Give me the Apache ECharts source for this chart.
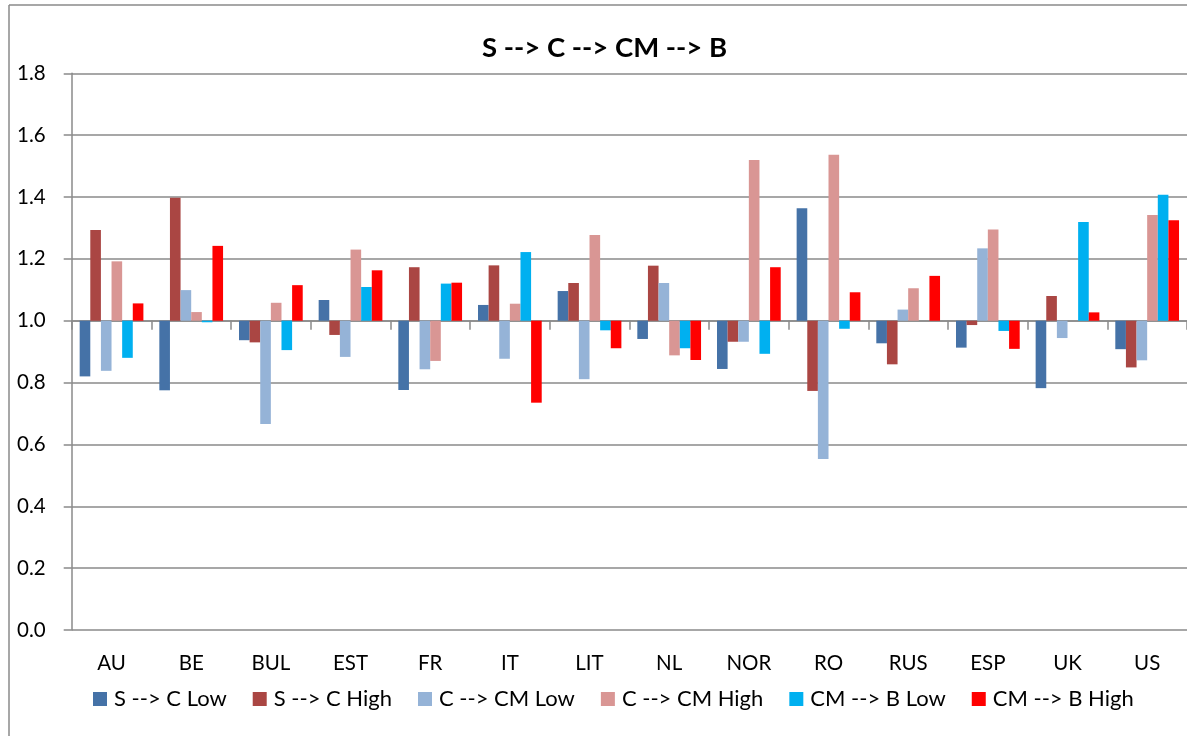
<!DOCTYPE html>
<html>
<head>
<meta charset="utf-8">
<script src="https://cdn.jsdelivr.net/npm/echarts@6/dist/echarts.min.js"></script>
<style>
  html, body { margin: 0; padding: 0; background: #ffffff; }
  #chart { width: 1187px; height: 736px; }
</style>
</head>
<body>
<div id="chart"></div>
<script>
// Countries along the category axis
const countries = ['AU', 'BE', 'BUL', 'EST', 'FR', 'IT', 'LIT', 'NL', 'NOR', 'RO', 'RUS', 'ESP', 'UK', 'US'];

// Ratios per country for each transition (bars grow up or down from 1.0)
const sToC_Low   = [0.820, 0.775, 0.937, 1.067, 0.776, 1.051, 1.096, 0.941, 0.844, 1.364, 0.927, 0.913, 0.782, 0.908];
const sToC_High  = [1.293, 1.398, 0.930, 0.954, 1.173, 1.179, 1.122, 1.178, 0.932, 0.773, 0.859, 0.986, 1.080, 0.849];
const cToCM_Low  = [0.838, 1.099, 0.666, 0.883, 0.843, 0.877, 0.811, 1.122, 0.932, 0.553, 1.036, 1.234, 0.944, 0.872];
const cToCM_High = [1.192, 1.028, 1.058, 1.230, 0.870, 1.055, 1.277, 0.888, 1.520, 1.537, 1.105, 1.295, 1.000, 1.342];
const cmToB_Low  = [0.880, 0.995, 0.905, 1.109, 1.120, 1.222, 0.969, 0.911, 0.893, 0.974, 1.000, 0.967, 1.319, 1.407];
const cmToB_High = [1.056, 1.242, 1.115, 1.163, 1.123, 0.735, 0.911, 0.873, 1.173, 1.092, 1.145, 0.909, 1.027, 1.325];

const seriesNames = ['S --> C Low', 'S --> C High', 'C --> CM Low', 'C --> CM High', 'CM --> B Low', 'CM --> B High'];

// Value axis range and step
const yMin = 0.0;
const yMax = 1.8;
const yStep = 0.2;

// Bars are measured from this reference level
const BASELINE = 1.0;

const colors = ['#4572A7', '#AA4643', '#95B3D7', '#D99694', '#00B0F0', '#FF0000'];
const gridGray = '#8a8a8a';
const FONT = 'Lato';

const allValues = [sToC_Low, sToC_High, cToCM_Low, cToCM_High, cmToB_Low, cmToB_High];

const chart = echarts.init(document.getElementById('chart'), null, { renderer: 'canvas' });

const option = {
  backgroundColor: '#ffffff',
  animation: false,
  color: colors,
  textStyle: { fontFamily: FONT, color: '#000' },
  title: {
    text: 'S --> C --> CM --> B',
    left: 477,
    top: 29,
    textStyle: { fontFamily: FONT, fontWeight: 'bold', fontSize: 27.5, color: '#000' }
  },
  // chart frame
  graphic: [
    { type: 'line', shape: { x1: 9, y1: 5, x2: 1200, y2: 5 }, style: { stroke: gridGray, lineWidth: 1.5 } },
    { type: 'line', shape: { x1: 9, y1: 5, x2: 9, y2: 760 }, style: { stroke: gridGray, lineWidth: 1.5 } }
  ],
  legend: {
    data: seriesNames,
    left: 88,
    top: 683,
    icon: 'rect',
    itemWidth: 14,
    itemHeight: 14,
    itemGap: 26,
    textStyle: { fontFamily: FONT, fontSize: 22, color: '#000', padding: [0, 0, 0, 2] }
  },
  grid: {
    left: 71.7,
    top: 73.3,
    bottom: 106,
    right: -6,
    containLabel: false
  },
  xAxis: [
    {
      // axis line drawn through the baseline, with ticks between countries
      type: 'category',
      data: countries,
      position: 'bottom',
      axisLine: { onZero: true, lineStyle: { color: gridGray, width: 1.5 } },
      axisTick: { show: true, length: 9, interval: 0, lineStyle: { color: gridGray, width: 1.5 } },
      axisLabel: { show: false },
      splitLine: { show: false }
    },
    {
      // country names along the bottom of the plot
      type: 'category',
      data: countries,
      position: 'bottom',
      axisLine: { show: false, onZero: false },
      axisTick: { show: false },
      axisLabel: { show: true, interval: 0, margin: 23, fontFamily: FONT, fontSize: 20.5, color: '#000' },
      splitLine: { show: false }
    }
  ],
  yAxis: {
    type: 'value',
    min: yMin - BASELINE,
    max: yMax - BASELINE,
    interval: yStep,
    axisLine: { show: true, lineStyle: { color: gridGray, width: 1.5 } },
    axisTick: { show: true, length: 8, lineStyle: { color: gridGray, width: 1.5 } },
    splitLine: { show: true, lineStyle: { color: gridGray, width: 1.5 } },
    axisLabel: {
      margin: 26,
      fontFamily: FONT,
      fontSize: 20.5,
      color: '#000',
      formatter: v => (v + BASELINE).toFixed(1)
    }
  },
  series: seriesNames.map((name, i) => ({
    name: name,
    type: 'bar',
    xAxisIndex: 0,
    barGap: '0%',
    barCategoryGap: '20%',
    itemStyle: { color: colors[i] },
    data: allValues[i].map(v => +(v - BASELINE).toFixed(4))
  }))
};

chart.setOption(option);
</script>
</body>
</html>
